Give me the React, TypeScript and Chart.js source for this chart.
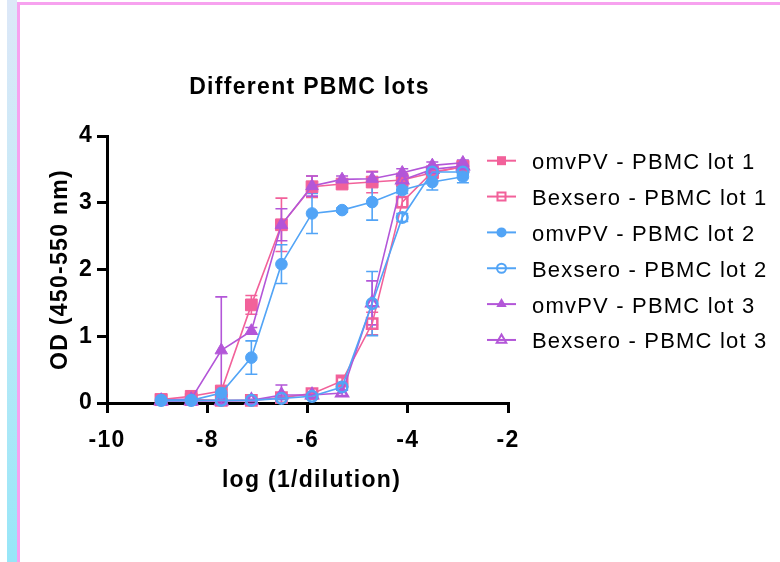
import React, { useEffect, useRef } from 'react';
import { Chart, registerables } from 'chart.js';

Chart.register(...registerables);

// ---------- data ----------
const xLog = [-8.92, -8.32, -7.72, -7.12, -6.52, -5.91, -5.31, -4.71, -4.11, -3.51, -2.9];

const omvLot1 = [0.05, 0.1, 0.18, 1.47, 2.67, 3.24, 3.28, 3.31, 3.34, 3.45, 3.54];
const omvLot1Err = [0.02, 0.03, 0.05, 0.14, 0.4, 0.16, 0.05, 0.16, 0.1, 0.08, 0.05];

const bexLot1 = [0.05, 0.05, 0.04, 0.04, 0.08, 0.14, 0.33, 1.19, 3.01, 3.46, 3.54];
const bexLot1Err = [0.01, 0.01, 0.01, 0.01, 0.02, 0.03, 0.05, 0.17, 0.08, 0.05, 0.04];

const omvLot2 = [0.04, 0.04, 0.15, 0.68, 2.08, 2.84, 2.89, 3.01, 3.19, 3.31, 3.39];
const omvLot2Err = [0.02, 0.02, 0.05, 0.25, 0.29, 0.3, 0.03, 0.27, 0.05, 0.12, 0.09];

const bexLot2 = [0.04, 0.04, 0.04, 0.04, 0.07, 0.1, 0.24, 1.49, 2.78, 3.46, 3.46];
const bexLot2Err = [0.01, 0.01, 0.01, 0.01, 0.02, 0.03, 0.05, 0.48, 0.06, 0.05, 0.05];

const omvLot3 = [0.04, 0.06, 0.79, 1.08, 2.67, 3.25, 3.35, 3.36, 3.45, 3.56, 3.6];
const omvLot3Err = [0.02, 0.02, 0.8, 0.05, 0.24, 0.15, 0.05, 0.1, 0.06, 0.05, 0.04];

const bexLot3 = [0.03, 0.03, 0.03, 0.04, 0.12, 0.12, 0.15, 1.5, 3.34, 3.5, 3.55];
const bexLot3Err = [0.01, 0.01, 0.01, 0.01, 0.15, 0.03, 0.04, 0.33, 0.05, 0.05, 0.04];

const seriesLabels = [
  'omvPV - PBMC lot 1',
  'Bexsero - PBMC lot 1',
  'omvPV - PBMC lot 2',
  'Bexsero - PBMC lot 2',
  'omvPV - PBMC lot 3',
  'Bexsero - PBMC lot 3',
];

const chartTitle = 'Different PBMC lots';
const xAxisTitle = 'log (1/dilution)';
const yAxisTitle = 'OD (450-550 nm)';
const xMin = -10;
const xMax = -2;
const xStep = 2;
const yMin = 0;
const yMax = 4;
const yStep = 1;

// ---------- styles ----------
const PINK = '#f2619a';
const BLUE = '#52a4f6';
const PURPLE = '#b356d8';
const FONT = "'Liberation Sans', Arial, Helvetica, sans-serif";

type Style = { color: string; shape: 'rect' | 'circle' | 'triangle'; filled: boolean; order: number };

const styles: Style[] = [
  { color: PINK, shape: 'rect', filled: true, order: 4 },
  { color: PINK, shape: 'rect', filled: false, order: 5 },
  { color: BLUE, shape: 'circle', filled: true, order: 1 },
  { color: BLUE, shape: 'circle', filled: false, order: 0 },
  { color: PURPLE, shape: 'triangle', filled: true, order: 2 },
  { color: PURPLE, shape: 'triangle', filled: false, order: 3 },
];

const seriesValues = [omvLot1, bexLot1, omvLot2, bexLot2, omvLot3, bexLot3];
const seriesErrors = [omvLot1Err, bexLot1Err, omvLot2Err, bexLot2Err, omvLot3Err, bexLot3Err];

function pointRadiusFor(s: Style) {
  if (s.shape === 'rect') return s.filled ? 8.3 : 7.3;
  if (s.shape === 'circle') return s.filled ? 5.8 : 5.3;
  return s.filled ? 7.2 : 6.6;
}

function drawLegendMarker(ctx: CanvasRenderingContext2D, x: number, y: number, s: Style) {
  ctx.save();
  ctx.strokeStyle = s.color;
  ctx.fillStyle = s.color;
  ctx.lineWidth = 2;
  ctx.beginPath();
  if (s.shape === 'rect') {
    if (s.filled) ctx.rect(x - 4.5, y - 4.5, 9, 9);
    else ctx.rect(x - 4, y - 4, 8, 8);
  } else if (s.shape === 'circle') {
    ctx.arc(x, y, s.filled ? 5 : 4.5, 0, Math.PI * 2);
  } else {
    const r = s.filled ? 6 : 5.5;
    ctx.moveTo(x, y - r);
    ctx.lineTo(x + r * 0.866, y + r * 0.5);
    ctx.lineTo(x - r * 0.866, y + r * 0.5);
    ctx.closePath();
  }
  if (s.filled) ctx.fill();
  else ctx.stroke();
  ctx.restore();
}

const decorPlugin = {
  id: 'decor',
  beforeDraw(chart: any) {
    chart.ctx.letterSpacing = '1.3px';
  },
  beforeDatasetsDraw(chart: any) {
    const ctx: CanvasRenderingContext2D = chart.ctx;
    const xs = chart.scales.x;
    const ys = chart.scales.y;
    chart.data.datasets.forEach((ds: any) => {
      const errs: number[] = ds.errors || [];
      ctx.save();
      ctx.strokeStyle = ds.borderColor;
      ctx.lineWidth = 1.6;
      ds.data.forEach((p: any, i: number) => {
        const e = errs[i] || 0;
        if (e <= 0) return;
        const px = xs.getPixelForValue(p.x);
        const t = ys.getPixelForValue(p.y + e);
        const b = ys.getPixelForValue(Math.max(p.y - e, 0));
        ctx.beginPath();
        ctx.moveTo(px, t);
        ctx.lineTo(px, b);
        ctx.moveTo(px - 6, t);
        ctx.lineTo(px + 6, t);
        ctx.moveTo(px - 6, b);
        ctx.lineTo(px + 6, b);
        ctx.stroke();
      });
      ctx.restore();
    });
  },
  afterDraw(chart: any) {
    const ctx: CanvasRenderingContext2D = chart.ctx;
    const area = chart.chartArea;
    ctx.save();
    ctx.letterSpacing = '1.3px';
    ctx.fillStyle = '#000';
    ctx.font = `bold 23px ${FONT}`;
    ctx.textAlign = 'center';
    ctx.textBaseline = 'alphabetic';
    const cx = (area.left + area.right) / 2 + 2;
    ctx.fillText(chartTitle, cx, 94);
    ctx.fillText(xAxisTitle, cx + 2, 487);
    ctx.save();
    ctx.translate(67, (area.top + area.bottom) / 2);
    ctx.rotate(-Math.PI / 2);
    ctx.fillText(yAxisTitle, 0, 0);
    ctx.restore();

    // legend
    ctx.font = `22px ${FONT}`;
    ctx.letterSpacing = '1.2px';
    ctx.textAlign = 'left';
    seriesLabels.forEach((label, i) => {
      const s = styles[i];
      const y = 160.7 + i * 35.85;
      ctx.save();
      ctx.strokeStyle = s.color;
      ctx.lineWidth = 2;
      ctx.beginPath();
      ctx.moveTo(487, y);
      ctx.lineTo(516, y);
      ctx.stroke();
      ctx.restore();
      drawLegendMarker(ctx, 501.5, y, s);
      ctx.fillStyle = '#000';
      ctx.fillText(label, 532, y + 8.5);
    });
    ctx.restore();
  },
};

export default function App() {
  const canvasRef = useRef<HTMLCanvasElement | null>(null);

  useEffect(() => {
    const canvas = canvasRef.current;
    if (!canvas) return;
    const datasets = seriesLabels.map((label, k) => {
      const s = styles[k];
      return {
        label,
        data: xLog.map((x, i) => ({ x, y: seriesValues[k][i] })),
        errors: seriesErrors[k],
        showLine: true,
        borderColor: s.color,
        backgroundColor: s.filled ? s.color : 'rgba(0,0,0,0)',
        borderWidth: 1.6,
        tension: 0,
        pointStyle: s.shape,
        pointRadius: pointRadiusFor(s),
        pointBorderWidth: s.filled ? 1 : 2.5,
        pointBorderColor: s.color,
        pointBackgroundColor: s.filled ? s.color : 'rgba(0,0,0,0)',
        order: s.order,
        clip: false,
      };
    });

    const tickFont = { family: FONT, size: 23, weight: 'bold' as const };

    const chart = new Chart(canvas, {
      type: 'scatter',
      data: { datasets } as any,
      options: {
        responsive: false,
        animation: false,
        devicePixelRatio: 1,
        layout: { padding: { left: 0, top: 136, right: 272, bottom: 0 } },
        plugins: {
          legend: { display: false },
          tooltip: { enabled: false },
          title: { display: false },
        },
        scales: {
          x: {
            type: 'linear',
            min: xMin,
            max: xMax,
            ticks: {
              stepSize: xStep,
              color: '#000',
              font: tickFont,
              padding: 14,
              maxRotation: 0,
              autoSkip: false,
            },
            grid: {
              drawOnChartArea: false,
              drawTicks: true,
              tickLength: 10,
              tickWidth: 3,
              lineWidth: 3,
              color: '#000',
            },
            border: { display: true, color: '#000', width: 3 },
            afterFit: (scale: any) => {
              scale.height = 159;
            },
          },
          y: {
            type: 'linear',
            min: yMin,
            max: yMax,
            ticks: {
              stepSize: yStep,
              color: '#000',
              font: tickFont,
              padding: 4,
            },
            grid: {
              drawOnChartArea: false,
              drawTicks: true,
              tickLength: 10,
              tickWidth: 3,
              lineWidth: 3,
              color: '#000',
            },
            border: { display: true, color: '#000', width: 3 },
            afterFit: (scale: any) => {
              scale.width = 107;
            },
          },
        },
      } as any,
      plugins: [decorPlugin as any],
    });
    return () => chart.destroy();
  }, []);

  return (
    <div style={{ position: 'absolute', left: 0, top: 0, width: 780, height: 562, background: '#fff', overflow: 'hidden' }}>
      <div
        style={{
          position: 'absolute',
          left: 7,
          top: 0,
          width: 10,
          height: 562,
          background: 'linear-gradient(to bottom, #dde8f8 0%, #bfeaf7 50%, #97e6f8 100%)',
        }}
      />
      <div style={{ position: 'absolute', left: 17, top: 2, width: 3, height: 560, background: '#f7a2ef' }} />
      <div style={{ position: 'absolute', left: 17, top: 2, width: 763, height: 3, background: '#f7a2ef' }} />
      <canvas
        ref={canvasRef}
        width={780}
        height={562}
        style={{ position: 'absolute', left: 0, top: 0, width: 780, height: 562, display: 'block' }}
      />
    </div>
  );
}
